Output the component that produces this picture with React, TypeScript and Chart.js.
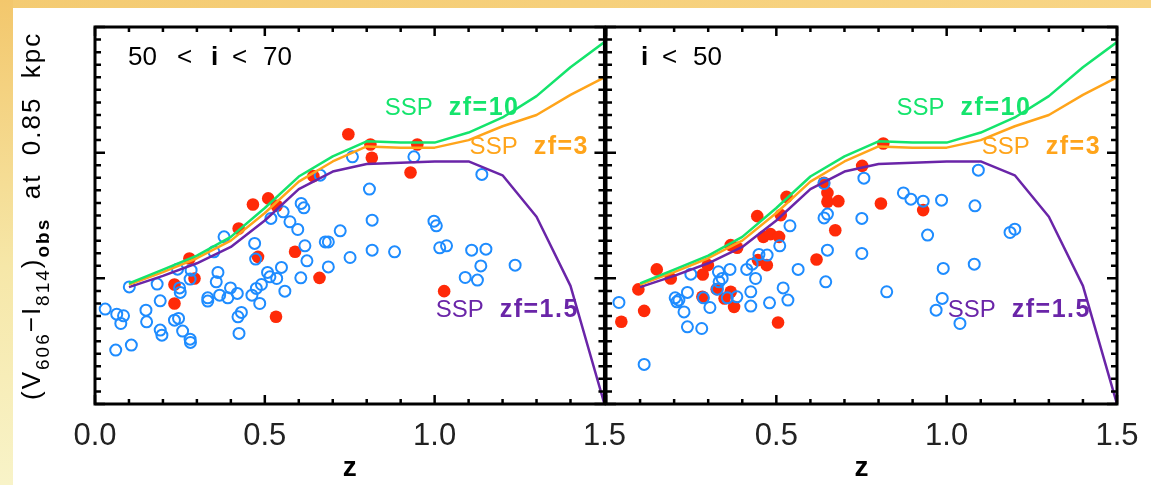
import { useEffect, useRef } from 'react';
import { Chart, registerables } from 'chart.js';

Chart.register(...registerables);

// ---- model tracks (SSP), shared by both panels ----
const modelZ = [0.1, 0.2, 0.3, 0.4, 0.5, 0.6, 0.7, 0.8, 0.9, 1.0, 1.1, 1.2, 1.3, 1.4, 1.5];
const sspZf10 = [0.96, 1.07, 1.18, 1.33, 1.56, 1.81, 1.97, 2.09, 2.08, 2.08, 2.16, 2.28, 2.45, 2.68, 2.88];
const sspZf3 = [0.95, 1.05, 1.16, 1.3, 1.52, 1.77, 1.93, 2.05, 2.04, 2.04, 2.1, 2.21, 2.3, 2.46, 2.6];
const sspZf15 = [0.93, 1.02, 1.12, 1.25, 1.46, 1.71, 1.85, 1.91, 1.92, 1.93, 1.93, 1.82, 1.49, 0.94, 0.0];

// ---- left panel: 50 < i < 70 ----
const leftOpenZ = [0.03, 0.064, 0.084, 0.076, 0.061, 0.107, 0.101, 0.15, 0.152, 0.183, 0.192, 0.192, 0.197, 0.234, 0.246, 0.243, 0.283, 0.28, 0.249, 0.251, 0.258, 0.28, 0.281, 0.332, 0.332, 0.35, 0.362, 0.357, 0.38, 0.367, 0.391, 0.399, 0.419, 0.421, 0.431, 0.424, 0.462, 0.475, 0.49, 0.47, 0.473, 0.485, 0.508, 0.515, 0.518, 0.535, 0.549, 0.559, 0.554, 0.574, 0.597, 0.607, 0.615, 0.618, 0.606, 0.624, 0.663, 0.678, 0.687, 0.687, 0.722, 0.751, 0.758, 0.808, 0.816, 0.816, 0.882, 0.939, 0.998, 1.005, 1.015, 1.035, 1.109, 1.151, 1.136, 1.09, 1.126, 1.139, 1.237];
const leftOpenC = [0.755, 0.715, 0.702, 0.641, 0.429, 0.469, 0.932, 0.747, 0.654, 0.954, 0.821, 0.588, 0.548, 0.667, 0.681, 1.073, 1.065, 0.994, 0.924, 0.888, 0.58, 0.516, 0.49, 0.845, 0.819, 1.211, 1.047, 0.972, 1.33, 0.866, 0.845, 0.924, 0.88, 0.694, 0.729, 0.562, 0.866, 0.92, 0.951, 1.278, 1.153, 0.8, 1.047, 1.012, 1.477, 0.999, 1.087, 0.898, 1.529, 1.45, 1.389, 1.596, 1.561, 1.259, 1.004, 1.139, 1.821, 1.29, 1.29, 1.091, 1.378, 1.166, 1.967, 1.71, 1.463, 1.224, 1.211, 1.967, 1.455, 1.418, 1.243, 1.259, 1.224, 1.232, 1.099, 1.007, 0.986, 1.827, 1.105];
const leftFilledZ = [0.234, 0.234, 0.278, 0.293, 0.423, 0.465, 0.51, 0.535, 0.48, 0.589, 0.533, 0.643, 0.661, 0.746, 0.811, 0.815, 0.949, 0.929, 1.028];
const leftFilledC = [0.951, 0.8, 1.158, 0.999, 1.397, 1.588, 1.636, 1.577, 1.171, 1.211, 0.694, 1.813, 1.004, 2.147, 2.065, 1.959, 2.065, 1.842, 0.898];

// ---- right panel: i < 50 ----
const rightOpenZ = [0.038, 0.112, 0.203, 0.208, 0.214, 0.229, 0.239, 0.239, 0.249, 0.281, 0.286, 0.305, 0.327, 0.33, 0.332, 0.341, 0.356, 0.364, 0.384, 0.413, 0.425, 0.425, 0.429, 0.439, 0.449, 0.473, 0.48, 0.51, 0.52, 0.534, 0.54, 0.564, 0.64, 0.64, 0.65, 0.65, 0.645, 0.751, 0.751, 0.757, 0.824, 0.873, 0.895, 0.931, 0.985, 1.083, 1.093, 0.944, 1.186, 1.2, 0.99, 1.081, 0.987, 0.969, 1.039];
const rightOpenC = [0.808, 0.315, 0.845, 0.813, 0.827, 0.733, 0.888, 0.614, 1.033, 0.601, 0.845, 0.768, 0.914, 1.052, 0.972, 0.999, 0.845, 1.071, 0.853, 1.071, 0.893, 0.779, 1.113, 0.999, 1.19, 1.185, 0.805, 1.259, 0.924, 0.827, 1.418, 1.071, 1.755, 1.481, 1.511, 1.224, 0.972, 1.477, 1.198, 1.797, 0.893, 1.68, 1.63, 1.614, 1.622, 1.577, 1.861, 1.344, 1.365, 1.391, 1.079, 1.113, 0.84, 0.747, 0.641];
const rightFilledZ = [0.045, 0.095, 0.112, 0.149, 0.19, 0.284, 0.299, 0.283, 0.325, 0.348, 0.366, 0.376, 0.366, 0.385, 0.444, 0.462, 0.483, 0.508, 0.446, 0.472, 0.505, 0.513, 0.53, 0.618, 0.64, 0.65, 0.65, 0.682, 0.673, 0.752, 0.814, 0.807, 0.931];
const rightFilledC = [0.654, 0.912, 0.741, 1.071, 0.999, 1.031, 1.105, 0.853, 0.914, 0.84, 0.893, 0.773, 1.264, 1.243, 1.495, 1.33, 1.352, 1.33, 1.145, 1.105, 0.649, 1.503, 1.648, 1.15, 1.76, 1.68, 1.609, 1.614, 1.383, 1.895, 2.073, 1.596, 1.543];

// ---- axis ----
const zMin = 0;
const zMax = 1.5;
const zStep = 0.1;
const colorMin = 0;
const colorMax = 3;
const colorStep = 0.1;

const GREEN = '#14E46C';
const ORANGE = '#FFA41A';
const PURPLE = '#6A25A8';
const BLUE = '#1E8CFF';
const RED = '#FF2A08';
const FONT = "'Liberation Sans', Arial, sans-serif";

const H = 485;
const PLOT_TOP = 27;
const PLOT_BOTTOM = 404;

type Tok = { t: string; dx: number; bold?: boolean };

type Panel = {
  key: string;
  canvasLeft: number;
  canvasWidth: number;
  areaLeft: number;
  areaRight: number;
  openZ: number[];
  openC: number[];
  filledZ: number[];
  filledC: number[];
  label: Tok[];
  showZeroLabel: boolean;
  yTitle: boolean;
};

const panels: Panel[] = [
  {
    key: 'left', canvasLeft: 0, canvasWidth: 640, areaLeft: 95, areaRight: 605,
    openZ: leftOpenZ, openC: leftOpenC, filledZ: leftFilledZ, filledC: leftFilledC,
    label: [{ t: '50', dx: 33 }, { t: '<', dx: 82 }, { t: 'i', dx: 116, bold: true }, { t: '<', dx: 137 }, { t: '70', dx: 168 }],
    showZeroLabel: true, yTitle: true,
  },
  {
    key: 'right', canvasLeft: 570, canvasWidth: 585, areaLeft: 606, areaRight: 1117,
    openZ: rightOpenZ, openC: rightOpenC, filledZ: rightFilledZ, filledC: rightFilledC,
    label: [{ t: 'i', dx: 35, bold: true }, { t: '<', dx: 56 }, { t: '50', dx: 87 }],
    showZeroLabel: false, yTitle: false,
  },
];

const sspLabels = [
  { zf: 'zf=10', color: GREEN, z: 0.853, c: 2.3 },
  { zf: 'zf=3', color: ORANGE, z: 1.103, c: 1.986 },
  { zf: 'zf=1.5', color: PURPLE, z: 1.003, c: 0.695 },
];

function pts(xs: number[], ys: number[]) {
  return xs.map((x, i) => ({ x, y: ys[i] }));
}

function decorPlugin(p: Panel) {
  return {
    id: 'decor-' + p.key,
    afterDatasetsDraw(chart: any) {
      const { ctx, chartArea: a, scales } = chart;
      const xs = scales.x;
      const ys = scales.y;
      ctx.save();
      // ticks (inward)
      ctx.strokeStyle = '#000';
      ctx.lineWidth = 2.5;
      ctx.beginPath();
      for (const t of xs.ticks) {
        const k = Math.round(t.value * 10);
        const px = xs.getPixelForValue(t.value);
        const len = k % 5 === 0 ? 9 : 5;
        ctx.moveTo(px, a.bottom);
        ctx.lineTo(px, a.bottom - len);
        ctx.moveTo(px, a.top);
        ctx.lineTo(px, a.top + len);
      }
      for (const t of ys.ticks) {
        const k = Math.round(t.value * 10);
        const py = ys.getPixelForValue(t.value);
        const len = k % 10 === 0 ? 10 : 6;
        ctx.moveTo(a.left, py);
        ctx.lineTo(a.left + len, py);
        ctx.moveTo(a.right, py);
        ctx.lineTo(a.right - len, py);
      }
      ctx.stroke();
      ctx.lineWidth = 3;
      ctx.strokeRect(a.left, a.top, a.right - a.left, a.bottom - a.top);

      // panel label
      ctx.fillStyle = '#000';
      ctx.textBaseline = 'alphabetic';
      ctx.textAlign = 'left';
      for (const tok of p.label) {
        ctx.font = `${tok.bold ? 'bold ' : ''}26px ${FONT}`;
        ctx.fillText(tok.t, a.left + tok.dx, a.top + 38);
      }

      // SSP labels
      for (const s of sspLabels) {
        const x = xs.getPixelForValue(s.z);
        const y = ys.getPixelForValue(s.c);
        ctx.fillStyle = s.color;
        ctx.font = `24px ${FONT}`;
        ctx.fillText('SSP', x, y);
        const w = ctx.measureText('SSP').width;
        ctx.font = `bold 25px ${FONT}`;
        (ctx as any).letterSpacing = '1.5px';
        ctx.fillText(s.zf, x + w + 16, y);
        (ctx as any).letterSpacing = '0px';
      }

      // y axis title
      if (p.yTitle) {
        ctx.save();
        ctx.translate(40 - p.canvasLeft, 400);
        ctx.rotate(-Math.PI / 2);
        ctx.fillStyle = '#000';
        (ctx as any).letterSpacing = '2px';
        const segs = [
          { t: '(V', f: `26px ${FONT}`, dy: 0 },
          { t: '606', f: `19px ${FONT}`, dy: 9 },
          { t: '\u2212I', f: `26px ${FONT}`, dy: 0 },
          { t: '814', f: `19px ${FONT}`, dy: 9 },
          { t: ')', f: `26px ${FONT}`, dy: 0 },
          { t: 'obs', f: `bold 19px ${FONT}`, dy: 9 },
          { t: '  at  0.85  kpc', f: `26px ${FONT}`, dy: 0 },
        ];
        let u = 0;
        for (const s of segs) {
          ctx.font = s.f;
          ctx.fillText(s.t, u, s.dy);
          u += ctx.measureText(s.t).width;
        }
        ctx.restore();
      }
      ctx.restore();
    },
  };
}

function PanelChart({ p }: { p: Panel }) {
  const ref = useRef<HTMLCanvasElement | null>(null);
  useEffect(() => {
    if (!ref.current) return;
    const lineDs = (data: number[], color: string) => ({
      data: pts(modelZ, data),
      showLine: true,
      borderColor: color,
      backgroundColor: color,
      borderWidth: 2.5,
      borderJoinStyle: 'round',
      pointRadius: 0,
      fill: false,
      tension: 0,
    });
    const chart = new Chart(ref.current, {
      type: 'scatter',
      data: {
        datasets: [
          lineDs(sspZf10, GREEN),
          lineDs(sspZf3, ORANGE),
          lineDs(sspZf15, PURPLE),
          {
            data: pts(p.openZ, p.openC),
            pointRadius: 5.5,
            pointBorderWidth: 2,
            borderColor: BLUE,
            backgroundColor: 'rgba(0,0,0,0)',
            pointStyle: 'circle',
          },
          {
            data: pts(p.filledZ, p.filledC),
            pointRadius: 6.3,
            pointBorderWidth: 0,
            borderColor: RED,
            backgroundColor: RED,
            pointStyle: 'circle',
          },
        ] as any,
      },
      options: {
        animation: false,
        responsive: false,
        maintainAspectRatio: false,
        layout: {
          padding: {
            left: p.areaLeft - p.canvasLeft,
            right: p.canvasLeft + p.canvasWidth - p.areaRight,
            top: PLOT_TOP,
            bottom: 0,
          },
        },
        plugins: { legend: { display: false }, tooltip: { enabled: false } },
        scales: {
          x: {
            type: 'linear',
            min: zMin,
            max: zMax,
            grid: { display: false, drawTicks: false },
            border: { display: false },
            ticks: {
              stepSize: zStep,
              autoSkip: false,
              maxRotation: 0,
              padding: 14,
              color: '#222',
              font: { family: FONT, size: 31 },
              callback: (v: any) => {
                const k = Math.round(Number(v) * 10);
                if (k % 5 !== 0) return '';
                if (k === 0 && !p.showZeroLabel) return '';
                return (k / 10).toFixed(1);
              },
            },
            title: {
              display: true,
              text: 'z',
              color: '#000',
              font: { family: FONT, size: 28, weight: 'bold' },
              padding: { top: 0, bottom: 0 },
            },
            afterFit: (s: any) => {
              s.height = H - PLOT_BOTTOM;
            },
          },
          y: {
            type: 'linear',
            min: colorMin,
            max: colorMax,
            grid: { display: false, drawTicks: false },
            border: { display: false },
            ticks: { stepSize: colorStep, display: false },
            afterFit: (s: any) => {
              s.width = 0;
            },
          },
        } as any,
      },
      plugins: [decorPlugin(p)],
    });
    return () => chart.destroy();
  }, [p]);
  return (
    <canvas
      ref={ref}
      width={p.canvasWidth}
      height={H}
      style={{ position: 'absolute', left: p.canvasLeft, top: 0, width: p.canvasWidth, height: H }}
    />
  );
}

export default function App() {
  return (
    <div style={{ position: 'absolute', left: 0, top: 0, width: 1155, height: H, background: '#fff', overflow: 'hidden' }}>
      <div style={{ position: 'absolute', left: 0, top: 0, width: 1151, height: 8, background: 'linear-gradient(to right, #F4CB72, #F8D585)' }} />
      <div style={{ position: 'absolute', left: 0, top: 0, width: 13, height: H, background: 'linear-gradient(to bottom, #F3C76C, #F6E7A8 55%, #F8F3C8)' }} />
      {panels.map((p) => (
        <PanelChart key={p.key} p={p} />
      ))}
    </div>
  );
}
